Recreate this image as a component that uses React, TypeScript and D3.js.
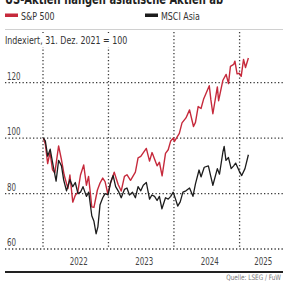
import React, { useEffect, useRef } from "react";
import * as d3 from "d3";

// S&P 500, indexiert 31.12.2021 = 100
const spDates = [
  "2022-01-03", "2022-01-14", "2022-01-27", "2022-02-09", "2022-02-23", "2022-03-08", "2022-03-29",
  "2022-04-14", "2022-04-29", "2022-05-20", "2022-05-31", "2022-06-16", "2022-06-30", "2022-07-14",
  "2022-07-29", "2022-08-16", "2022-08-31", "2022-09-12", "2022-09-30", "2022-10-12", "2022-10-31",
  "2022-11-15", "2022-11-30", "2022-12-13", "2022-12-28", "2023-01-13", "2023-02-02", "2023-02-24",
  "2023-03-13", "2023-03-31", "2023-04-14", "2023-05-04", "2023-05-31", "2023-06-15", "2023-06-30",
  "2023-07-31", "2023-08-18", "2023-09-01", "2023-09-29", "2023-10-12", "2023-10-27", "2023-11-15",
  "2023-11-30", "2023-12-14", "2023-12-29", "2024-01-04", "2024-01-31", "2024-02-15", "2024-03-08",
  "2024-03-28", "2024-04-19", "2024-04-30", "2024-05-15", "2024-05-31", "2024-06-14", "2024-07-16",
  "2024-07-25", "2024-08-05", "2024-08-30", "2024-09-06", "2024-09-30", "2024-10-18", "2024-10-31",
  "2024-11-11", "2024-11-29", "2024-12-06", "2024-12-18", "2024-12-31", "2025-01-10", "2025-01-23",
  "2025-02-03", "2025-02-19",
];
const spValues = [
  100, 97.8, 90.8, 94.9, 88.6, 87.5, 97.2,
  92.2, 86.7, 81.8, 86.7, 76.9, 79.4, 80.5,
  86.7, 90.3, 83.0, 86.2, 75.2, 75.0, 81.2,
  83.8, 85.6, 84.3, 80.0, 83.9, 87.7, 83.3,
  80.9, 86.2, 86.8, 84.8, 87.7, 92.9, 93.4,
  96.3, 91.7, 94.8, 90.0, 91.3, 86.4, 94.5,
  95.8, 99.0, 100.1, 98.8, 101.7, 105.5, 107.3,
  110.2, 104.2, 105.7, 111.4, 110.7, 114.0, 118.9,
  113.8, 108.8, 118.5, 113.5, 120.9, 123.0, 119.7,
  125.9, 126.6, 127.8, 123.2, 123.4, 122.3, 128.4,
  125.5, 128.9,
];

// MSCI Asia, indexiert 31.12.2021 = 100
const asiaDates = [
  "2022-01-03", "2022-01-14", "2022-01-27", "2022-02-10", "2022-02-24", "2022-03-15", "2022-03-29",
  "2022-04-14", "2022-04-26", "2022-05-12", "2022-05-31", "2022-06-16", "2022-06-30", "2022-07-15",
  "2022-07-29", "2022-08-12", "2022-08-31", "2022-09-13", "2022-09-30", "2022-10-12", "2022-10-24",
  "2022-11-03", "2022-11-15", "2022-11-30", "2022-12-13", "2022-12-30", "2023-01-13", "2023-01-27",
  "2023-02-10", "2023-02-28", "2023-03-13", "2023-03-31", "2023-04-14", "2023-04-28", "2023-05-15",
  "2023-05-31", "2023-06-15", "2023-06-30", "2023-07-14", "2023-07-31", "2023-08-18", "2023-08-31",
  "2023-09-15", "2023-09-29", "2023-10-12", "2023-10-26", "2023-11-15", "2023-11-30", "2023-12-14",
  "2023-12-28", "2024-01-10", "2024-01-22", "2024-02-05", "2024-02-20", "2024-03-08", "2024-03-28",
  "2024-04-16", "2024-04-30", "2024-05-20", "2024-05-31", "2024-06-18", "2024-07-11", "2024-07-25",
  "2024-08-05", "2024-08-30", "2024-09-11", "2024-09-30", "2024-10-07", "2024-10-17", "2024-10-31",
  "2024-11-15", "2024-11-29", "2024-12-10", "2024-12-31", "2025-01-13", "2025-01-31", "2025-02-19",
];
const asiaValues = [
  100, 99, 93.5, 96, 91, 84.5, 92,
  90, 85, 81, 85, 82.5, 84, 80,
  80.5, 82.5, 79, 80.5, 72, 70, 65.5,
  68, 76, 78.5, 80, 79.5, 84, 86.5,
  82.5, 80.5, 78.5, 81.5, 82, 79.5, 80.5,
  78.5, 82.5, 81, 83, 84, 78, 79.5,
  79, 77.5, 79, 74.5, 78.5, 78, 79,
  80.5, 78, 75.5, 77, 80.5, 81, 82,
  79, 83.5, 88.5, 86, 89.5, 90, 86,
  83, 89, 87, 95, 97, 92, 93,
  89, 90, 91, 88, 86.5, 89, 94,
];

const yTicks = [60, 80, 100, 120];
const yearTicks = [2022, 2023, 2024, 2025];
const seriesNames = ["S&P 500", "MSCI Asia"];

const W = 283;
const H = 281;
const FONT = "'DejaVu Sans Condensed', 'Liberation Sans Narrow', 'Roboto', sans-serif";
const RED = "#c62a3c";
const BLACK = "#1c1c1c";
const GRID = "#3a3a3a";

export default function App() {
  const ref = useRef<SVGSVGElement | null>(null);

  useEffect(() => {
    const parse = d3.timeParse("%Y-%m-%d");
    const sp = spDates.map((d, i) => ({ date: parse(d) as Date, value: spValues[i] }));
    const asia = asiaDates.map((d, i) => ({ date: parse(d) as Date, value: asiaValues[i] }));

    const margin = { top: 32, right: 0, bottom: 32, left: 5 };

    const x = d3.scaleTime()
      .domain([new Date(2022, 0, 1), new Date(2025, 7, 31)])
      .range([43, W]);

    const y = d3.scaleLinear()
      .domain([60, 138.3])
      .range([H - margin.bottom, margin.top]);

    const svg = d3.select(ref.current);
    svg.selectAll("*").remove();

    // narrow text helper: the original uses a condensed face
    const label = (g: any, tx: number, ty: number, s: string, size: number, sx = 0.8) =>
      g.append("text")
        .attr("transform", `translate(${tx},${ty}) scale(${sx},1)`)
        .attr("font-family", FONT)
        .attr("font-size", size)
        .text(s);

    // title (cut at top)
    label(svg, 5, 3.5, "US-Aktien hängen asiatische Aktien ab", 13.5, 0.82)
      .attr("font-weight", "bold").attr("fill", "#222");

    // legend
    const legend = svg.append("g").attr("fill", "#333");
    const lx = [5, 145];
    const lc = [RED, BLACK];
    seriesNames.forEach((name, i) => {
      legend.append("rect").attr("x", lx[i]).attr("y", 13.5).attr("width", 13).attr("height", 3.5).attr("fill", lc[i]);
      label(legend, lx[i] + 16, 19.5, name, 11, 0.8);
    });

    svg.append("line")
      .attr("x1", 5).attr("x2", W).attr("y1", 29.5).attr("y2", 29.5)
      .attr("stroke", "#d0d0d0").attr("stroke-width", 1);

    // grid
    const grid = svg.append("g")
      .attr("stroke", GRID)
      .attr("stroke-width", 1.3)
      .attr("stroke-dasharray", "1.3,2.2");

    grid.selectAll("line.v")
      .data(yearTicks)
      .join("line")
      .attr("class", "v")
      .attr("x1", d => x(new Date(d, 0, 1)))
      .attr("x2", d => x(new Date(d, 0, 1)))
      .attr("y1", margin.top)
      .attr("y2", y(60));

    grid.selectAll("line.h")
      .data(yTicks)
      .join("line")
      .attr("class", "h")
      .attr("x1", margin.left)
      .attr("x2", W)
      .attr("y1", d => y(d))
      .attr("y2", d => y(d));

    // subtitle over grid
    svg.append("rect").attr("x", 3).attr("y", 33).attr("width", 128).attr("height", 14).attr("fill", "#fff");
    label(svg, 5, 44, "Indexiert, 31. Dez. 2021 = 100", 11, 0.8).attr("fill", "#333");

    // y labels
    const yl = svg.append("g").attr("fill", "#444");
    yTicks.forEach(v => label(yl, 7, y(v) - 3, String(v), 11, 0.72));

    // x labels, centered in each year's span
    const end = x.domain()[1];
    const xl = svg.append("g").attr("fill", "#444").attr("text-anchor", "middle");
    yearTicks.forEach(yr => {
      const a = x(new Date(yr, 0, 1));
      const b = x(d3.min([new Date(yr + 1, 0, 1), end]) as Date);
      label(xl, (a + b) / 2 + (yr === 2025 ? 2 : 3), 265, String(yr), 11, 0.72);
    });

    // lines
    const line = d3.line<{ date: Date; value: number }>()
      .x(d => x(d.date))
      .y(d => y(d.value))
      .curve(d3.curveLinear);

    svg.append("path")
      .datum(sp)
      .attr("fill", "none")
      .attr("stroke", RED)
      .attr("stroke-width", 1.4)
      .attr("stroke-linejoin", "round")
      .attr("d", line);

    svg.append("path")
      .datum(asia)
      .attr("fill", "none")
      .attr("stroke", BLACK)
      .attr("stroke-width", 1.3)
      .attr("stroke-linejoin", "round")
      .attr("d", line);

    // bottom rule and source
    svg.append("line")
      .attr("x1", 5).attr("x2", W).attr("y1", 272).attr("y2", 272)
      .attr("stroke", "#222").attr("stroke-width", 2);

    label(svg, W - 2, 280, "Quelle: LSEG / FuW", 7.5, 0.85)
      .attr("text-anchor", "end").attr("fill", "#777");
  }, []);

  return (
    <div style={{ position: "fixed", left: 0, top: 0 }}>
      <svg ref={ref} width={W} height={H} style={{ display: "block", background: "#fff" }} />
    </div>
  );
}
